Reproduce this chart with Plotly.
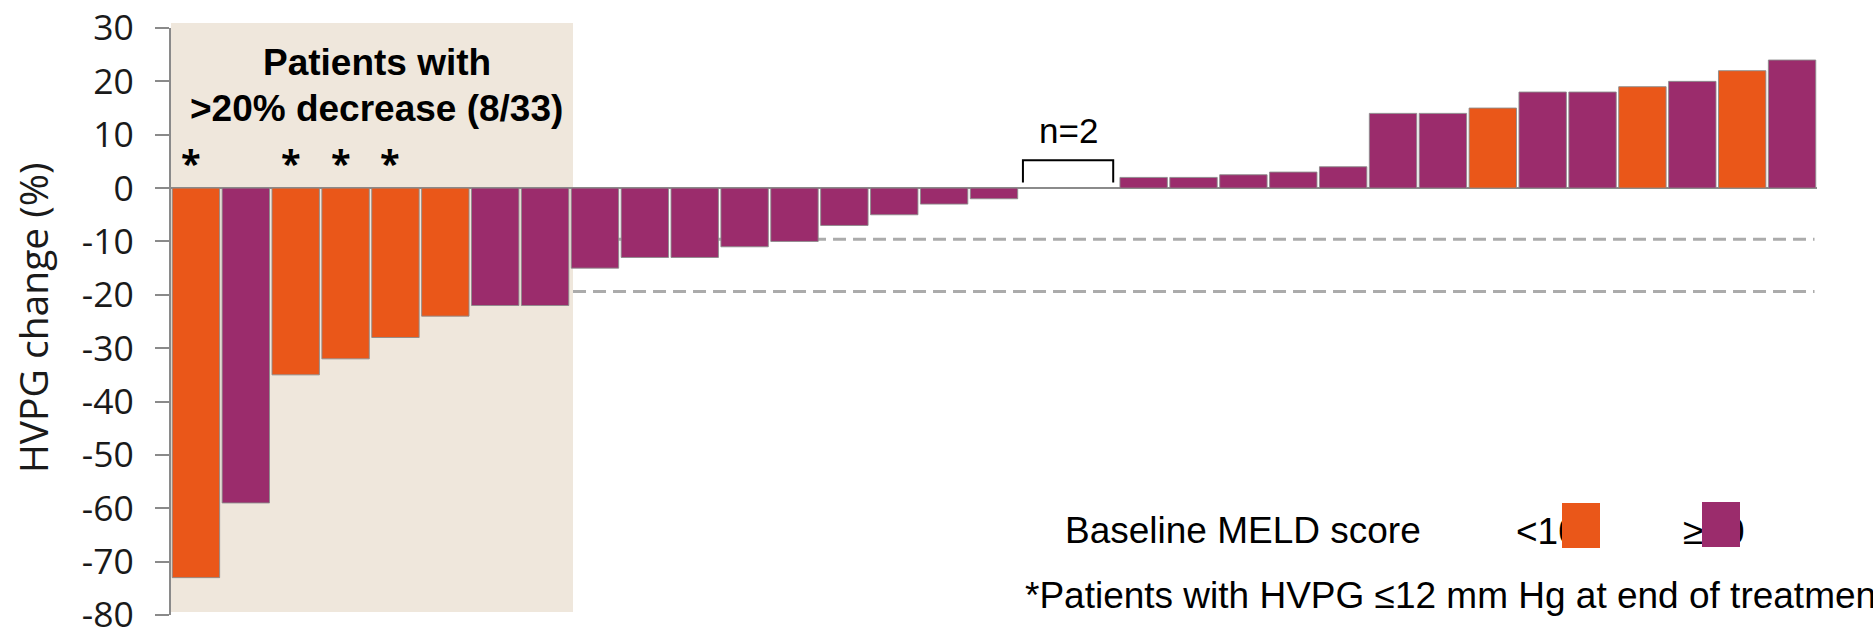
import plotly.graph_objects as go

# HVPG change (%) per patient, ordered from largest decrease to largest increase
hvpg_change = [-73, -59, -35, -32, -28, -24, -22, -22,
               -15, -13, -13, -11, -10, -7, -5, -3, -2,
               0, 0,
               2, 2, 2.5, 3, 4, 14, 14, 15, 18, 18, 19, 20, 22, 24]
# Baseline MELD score group per patient
meld_group = ["<10", "≥10", "<10", "<10", "<10", "<10", "≥10", "≥10",
              "≥10", "≥10", "≥10", "≥10", "≥10", "≥10", "≥10", "≥10", "≥10",
              "≥10", "≥10",
              "≥10", "≥10", "≥10", "≥10", "≥10", "≥10", "≥10", "<10", "≥10",
              "≥10", "<10", "≥10", "<10", "≥10"]
# Patients with HVPG <=12 mm Hg at end of treatment
starred = [0, 2, 3, 4]
n_responders = 8
y_ticks = [30, 20, 10, 0, -10, -20, -30, -40, -50, -60, -70, -80]
ref_levels = [-9.6, -19.4]

ORANGE = "#EA5719"
PURPLE = "#9B2C6C"
TAN = "#EFE7DC"
GREY = "#8A8A8A"
group_colors = {"<10": ORANGE, "≥10": PURPLE}

W, H = 1873, 629
PL, PR, PT, PB = 171, 1817, 28, 615


def px(x):
    return (x - PL) / (PR - PL)


def py(y):
    return (PB - y) / (PB - PT)


idx = list(range(len(hvpg_change)))
fig = go.Figure(go.Bar(
    x=idx,
    y=hvpg_change,
    marker=dict(color=[group_colors[g] for g in meld_group],
                line=dict(color="rgba(140,140,140,0.9)", width=1)),
    showlegend=False,
    hoverinfo="skip",
))

ARIAL = "Liberation Sans, Arial, sans-serif"
OPEN = "Open Sans, sans-serif"

shapes = []
# reference levels (dashed), right of the responder panel
for lv in ref_levels:
    shapes.append(dict(type="line", xref="x", yref="y",
                       x0=n_responders - 0.44, x1=len(idx) - 0.55, y0=lv, y1=lv,
                       line=dict(color="#ABABAB", width=3, dash="13px,7px"),
                       layer="below"))
# shaded responder panel
shapes.append(dict(type="rect", xref="x", yref="paper",
                   x0=-0.5, x1=n_responders - 0.44, y0=py(612), y1=py(23),
                   fillcolor=TAN, line=dict(width=0), layer="below"))
# bracket over the unchanged patients
zeros = [i for i, v in enumerate(hvpg_change) if v == 0]
bx0, bx1 = zeros[0] - 0.42, zeros[-1] + 0.39
shapes.append(dict(type="path", xref="x", yref="y",
                   path=f"M {bx0},1.05 L {bx0},5.2 L {bx1},5.2 L {bx1},1.05",
                   line=dict(color="black", width=2)))

annotations = [
    dict(text="Patients with", xref="paper", yref="paper", x=px(376.5), y=py(62),
         xanchor="center", yanchor="middle", showarrow=False,
         font=dict(family=ARIAL, size=37, color="black", weight="bold")),
    dict(text=">20% decrease (8/33)", xref="paper", yref="paper", x=px(376.5), y=py(108),
         xanchor="center", yanchor="middle", showarrow=False,
         font=dict(family=ARIAL, size=37, color="black", weight="bold")),
    dict(text="n=2", xref="x", yref="y", x=(zeros[0] + zeros[-1]) / 2, y=10.7,
         xanchor="center", yanchor="middle", showarrow=False,
         font=dict(family=ARIAL, size=35, color="black")),
    dict(text="HVPG change (%)", xref="paper", yref="paper", x=px(32), y=py(318),
         xanchor="center", yanchor="middle", textangle=-90, showarrow=False,
         font=dict(family=OPEN, size=39, color="#1a1a1a")),
    dict(text="Baseline MELD score", xref="paper", yref="paper", x=px(1063), y=py(530),
         xanchor="left", yanchor="middle", showarrow=False,
         font=dict(family=ARIAL, size=37, color="black")),
    dict(text="<10", xref="paper", yref="paper", x=px(1514), y=py(531),
         xanchor="left", yanchor="middle", showarrow=False,
         font=dict(family=ARIAL, size=37, color="black")),
    dict(text="≥10", xref="paper", yref="paper", x=px(1681), y=py(531),
         xanchor="left", yanchor="middle", showarrow=False,
         font=dict(family=ARIAL, size=37, color="black")),
    # legend swatches, drawn on top of the group labels
    dict(text=" ", xref="paper", yref="paper", x=px(1562), y=py(503),
         xanchor="left", yanchor="top", showarrow=False, width=38, height=45,
         bgcolor=ORANGE, borderpad=0, borderwidth=0),
    dict(text=" ", xref="paper", yref="paper", x=px(1702), y=py(502),
         xanchor="left", yanchor="top", showarrow=False, width=38, height=45,
         bgcolor=PURPLE, borderpad=0, borderwidth=0),
    dict(text="*Patients with HVPG ≤12 mm Hg at end of treatment", xref="paper", yref="paper",
         x=px(1023), y=py(595.5), xanchor="left", yanchor="middle", showarrow=False,
         font=dict(family=ARIAL, size=37, color="black")),
]
for i in starred:
    annotations.append(dict(text="*", xref="x", yref="y", x=i, y=4.8, xshift=-5,
                            xanchor="center", yanchor="middle", showarrow=False,
                            font=dict(family=OPEN, size=36, color="black", weight="bold")))

fig.update_layout(
    width=W, height=H,
    margin=dict(l=PL, r=W - PR, t=PT, b=H - PB, pad=0),
    paper_bgcolor="white", plot_bgcolor="white",
    bargap=0.05,
    shapes=shapes,
    annotations=annotations,
    xaxis=dict(range=[-0.5, len(idx) - 0.5], showticklabels=False, ticks="",
               showgrid=False, zeroline=False, showline=False, automargin=False,
               fixedrange=True),
    yaxis=dict(range=[-80, 30], tickvals=y_ticks, ticktext=[str(t) for t in y_ticks],
               showgrid=False, zeroline=True, zerolinecolor=GREY, zerolinewidth=2,
               showline=True, linecolor=GREY, linewidth=2,
               ticks="outside", ticklen=14, tickwidth=2, tickcolor=GREY,
               ticklabelstandoff=14, ticklabeloverflow="allow",
               tickfont=dict(family=OPEN, size=35.5, color="#1a1a1a"),
               automargin=False, fixedrange=True),
)

fig.write_html("out.html")
